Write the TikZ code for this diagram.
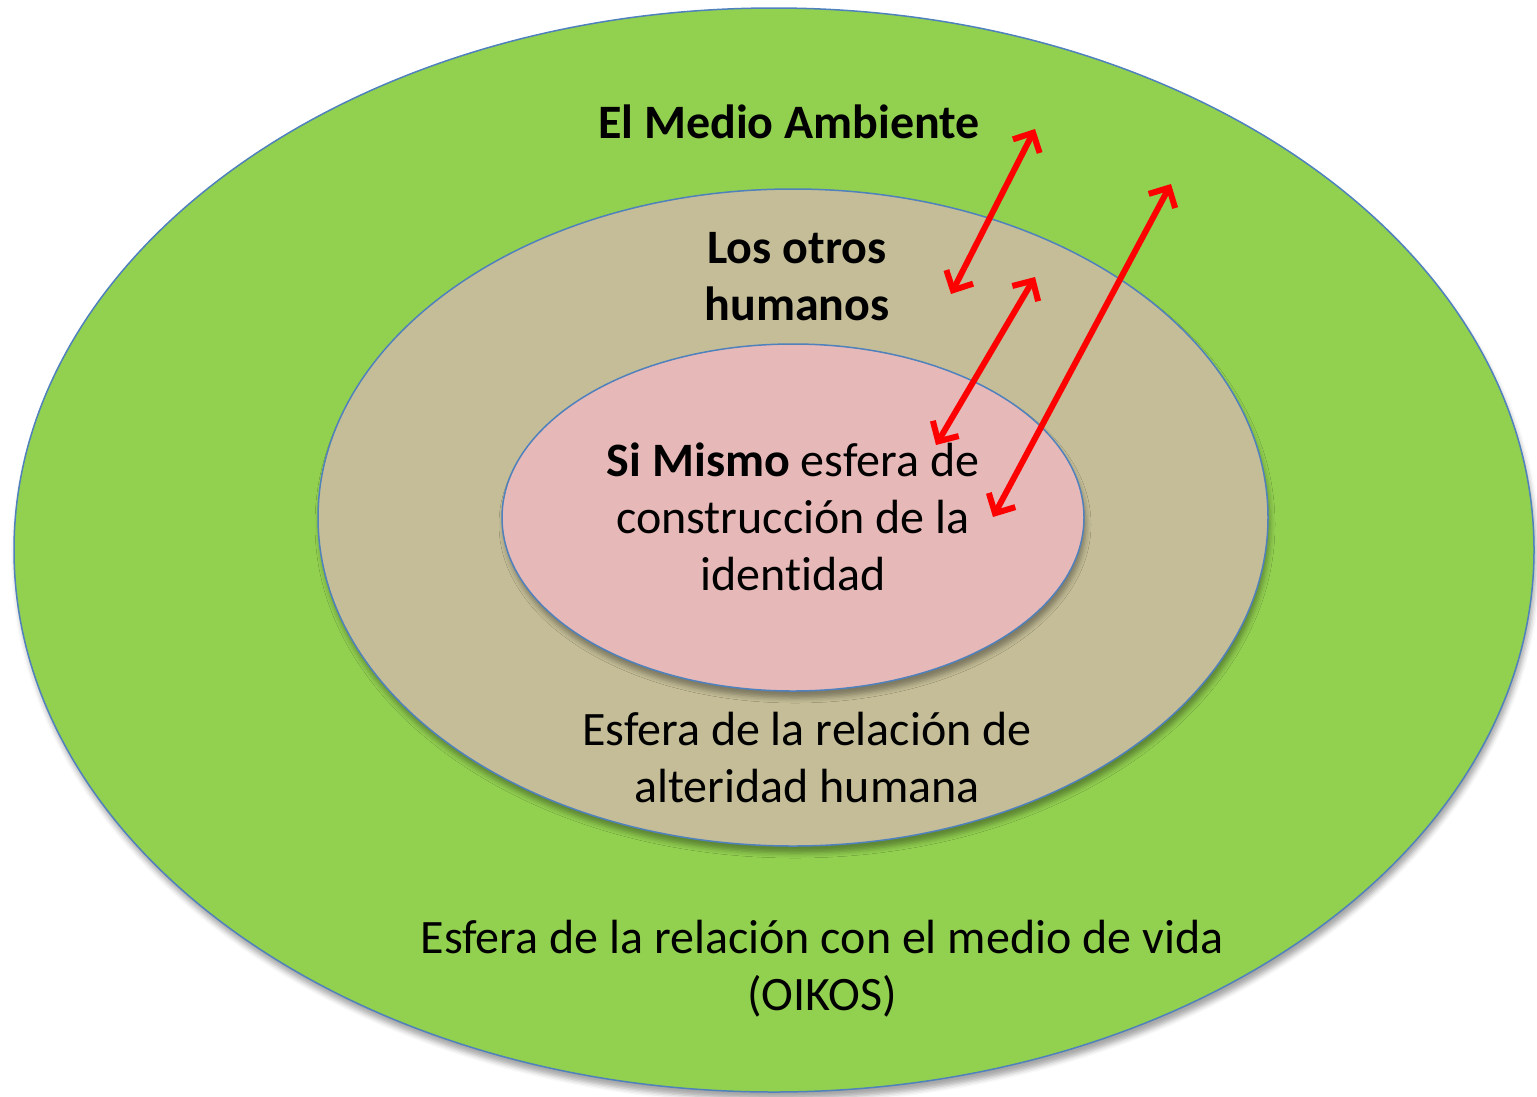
\documentclass[tikz,border=0pt]{standalone}
\usepackage{fontspec}
\setmainfont{Carlito}[Ligatures=NoCommon]
\usetikzlibrary{arrows.meta,shadows.blur}
\definecolor{oikos}{HTML}{92D050}
\definecolor{otros}{HTML}{C4BD97}
\definecolor{mismo}{HTML}{E6B8B7}
\definecolor{rim}{HTML}{4F81BD}
\tikzset{sphere/.style={draw=rim,line width=1.5pt,blur shadow={shadow xshift=2pt,shadow yshift=-7pt,shadow blur radius=5pt,shadow opacity=35}}}
\tikzset{link/.style={draw=red,line width=6pt,line cap=round,{Straight Barb[length=15pt,width=30pt]}-{Straight Barb[length=15pt,width=30pt]}}}
\tikzset{txt/.style={inner sep=0pt,align=center,font=\fontsize{48}{57}\selectfont,anchor=base}}

\begin{document}
\begin{tikzpicture}[x=1pt,y=-1pt]
	    \useasboundingbox (0,0) rectangle (1537,1096);
	    \fill[sphere,fill=oikos] (774,550) ellipse [x radius=760,y radius=542];
	    \fill[sphere,fill=otros] (793,517.5) ellipse [x radius=475,y radius=328.5];
	    \fill[sphere,fill=mismo] (793,517.5) ellipse [x radius=291,y radius=173.5];
	    % base anchor sits on the last line
	    \node[txt] (medio) at (789,138) {\textbf{El Medio Ambiente}};
	    \node[txt] (otros) at (797,320) {\textbf{Los otros}\\\textbf{humanos}};
	    \node[txt] (mismo) at (793,590) {\textbf{Si Mismo} esfera de\\construcción de la\\identidad};
	    \node[txt] (alteridad) at (807,802) {Esfera de la relación de\\alteridad humana};
	    \node[txt] (vida) at (822,1010) {Esfera de la relación con el medio de vida\\(OIKOS)};
	    % ends of the arrows
	    \coordinate (a1) at (1035,129);
	    \coordinate (b1) at (951,294);
	    \coordinate (a2) at (1171,184);
	    \coordinate (b2) at (993,517);
	    \coordinate (a3) at (1035,277);
	    \coordinate (b3) at (936,445);
	    \foreach \i in {1,2,3}
		\draw[link] (a\i) -- (b\i);
        \end{tikzpicture}
\end{document}
